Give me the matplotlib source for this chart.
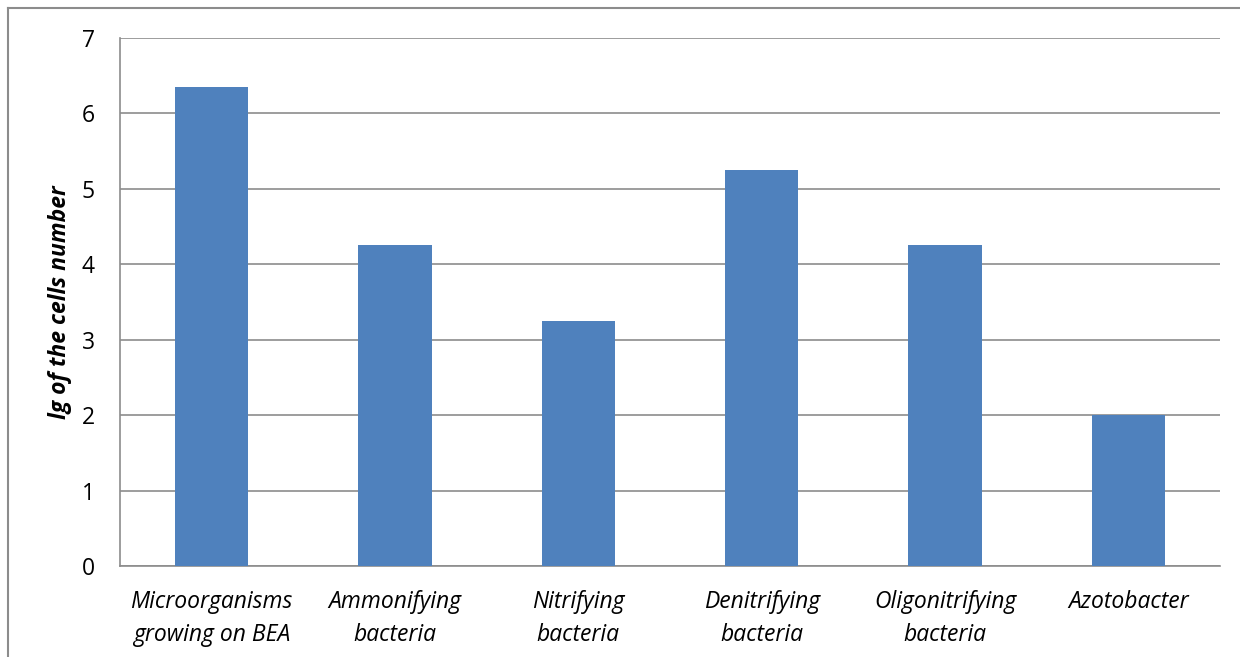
import matplotlib.pyplot as plt
from matplotlib.lines import Line2D

categories = ['Microorganisms\ngrowing on BEA', 'Ammonifying\nbacteria',
              'Nitrifying\nbacteria', 'Denitrifying\nbacteria',
              'Oligonitrifying\nbacteria', 'Azotobacter']
values = [6.35, 4.25, 3.25, 5.25, 4.25, 2.0]
yticks = [0, 1, 2, 3, 4, 5, 6, 7]

plt.rcParams['font.family'] = ['Open Sans', 'DejaVu Sans']

W, H = 1240, 657
fig = plt.figure(figsize=(W / 100, H / 100), dpi=100)
ax = fig.add_axes([120 / W, 1 - 566 / H, (1220 - 120) / W, (566 - 38) / H])

x = range(len(categories))
ax.bar(x, values, width=0.4, color='#4F81BD', zorder=3)

ax.set_xlim(-0.5, len(categories) - 0.5)
ax.set_ylim(0, 7)
ax.set_yticks(yticks)
ax.set_yticklabels([str(t) for t in yticks], fontsize=16.5)
ax.set_xticks(list(x))
ax.set_xticklabels(categories, fontsize=16.5, style='italic', linespacing=1.5)
ax.tick_params(axis='both', length=0, colors='black')
ax.tick_params(axis='x', pad=17)
ax.tick_params(axis='y', pad=18)

ax.grid(axis='y', color='#8c8c8c', linewidth=1.2, zorder=0)
for side in ['top', 'right']:
    ax.spines[side].set_visible(False)
for side in ['left', 'bottom']:
    ax.spines[side].set_color('#8c8c8c')
    ax.spines[side].set_linewidth(1.2)

ax.set_ylabel('lg of the cells number', fontsize=16.5, fontweight='bold',
              style='italic')
ax.yaxis.set_label_coords(-0.044, 0.5)

# outer chart frame
fig.add_artist(Line2D([8 / W, 8 / W], [0, 1 - 8 / H], color='#8c8c8c', lw=1.5))
fig.add_artist(Line2D([8 / W, 1], [1 - 8 / H, 1 - 8 / H], color='#8c8c8c', lw=1.5))

fig.savefig('out.png', dpi=100)
